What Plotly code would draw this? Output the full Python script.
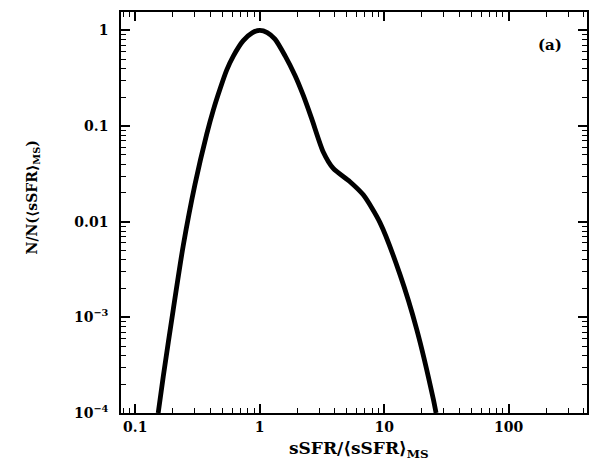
import plotly.graph_objects as go

# Curve (x = sSFR/<sSFR>_MS, y = N/N(<sSFR>_MS))
ssfr_ratio = [0.153, 0.168, 0.202, 0.243, 0.302, 0.375, 0.424, 0.480, 0.543,
              0.614, 0.738, 0.87, 1.0, 1.15, 1.327, 1.596, 1.922, 2.24, 2.62,
              3.24, 3.90, 5.31, 6.79, 9.25, 13.4, 18.2, 24.8, 26.1]
n_ratio = [1.0e-4, 2.4e-4, 1.2e-3, 5.6e-3, 0.0245, 0.082, 0.147, 0.244, 0.385,
           0.54, 0.783, 0.945, 1.0, 0.95, 0.811, 0.545, 0.338, 0.209, 0.119,
           0.0537, 0.0361, 0.0262, 0.0191, 0.0098, 0.0028, 7.6e-4, 1.4e-4, 1.0e-4]

x_tickvals = [0.1, 1, 10, 100]
x_ticktext = ["0.1", "1", "10", "100"]
x_minor = [0.08, 0.09] + [m * d for d in (0.1, 1, 10) for m in range(2, 10)] + [200, 300, 400]
y_tickvals = [1, 0.1, 0.01, 1e-3, 1e-4]
y_ticktext = ["1", "0.1", "0.01", "10<sup>\u22123</sup>", "10<sup>\u22124</sup>"]
y_minor = [m * d for d in (1e-4, 1e-3, 1e-2, 1e-1) for m in range(2, 10)]

X_RANGE = [-1.114, 2.629]
Y_RANGE = [-4, 0.193]
FONT = "DejaVu Serif"

fig = go.Figure()
# invisible trace carrying the overlay axes that draw the minor ticks
fig.add_trace(go.Scatter(x=ssfr_ratio, y=n_ratio, mode="lines", xaxis="x2", yaxis="y2",
                         line=dict(color="rgba(0,0,0,0)", width=0),
                         showlegend=False, hoverinfo="skip"))
fig.add_trace(go.Scatter(x=ssfr_ratio, y=n_ratio, mode="lines",
                         line=dict(color="black", width=4.8, shape="spline", smoothing=0.7),
                         showlegend=False, hoverinfo="skip"))

base = dict(type="log", showgrid=False, zeroline=False, showline=True, linecolor="black",
            linewidth=1.5, mirror="ticks", ticks="inside", tickcolor="black")

fig.update_layout(
    xaxis=dict(**base, range=X_RANGE, tickvals=x_tickvals, ticklen=9, tickwidth=1.5,
               ticktext=["<b>%s</b>" % t for t in x_ticktext],
               tickfont=dict(family=FONT, size=14, color="black")),
    yaxis=dict(**base, range=Y_RANGE, tickvals=y_tickvals, ticklen=9, tickwidth=1.5,
               ticktext=["<b>%s</b>" % t for t in y_ticktext], ticklabelstandoff=8,
               tickfont=dict(family=FONT, size=14, color="black")),
    xaxis2=dict(**base, range=X_RANGE, overlaying="x", side="bottom", tickvals=x_minor,
                ticklen=5, tickwidth=1.2, showticklabels=False),
    yaxis2=dict(**base, range=Y_RANGE, overlaying="y", side="left", tickvals=y_minor,
                ticklen=5, tickwidth=1.2, showticklabels=False),
)

# Axis titles as paper-positioned annotations
fig.add_annotation(x=(359 - 121) / 466, y=-(449 - 412.7) / 403, xref="paper", yref="paper",
                   text="<b>sSFR/\u27e8sSFR\u27e9<sub>MS</sub></b>", showarrow=False,
                   font=dict(family=FONT, size=17, color="black"),
                   xanchor="center", yanchor="middle")
fig.add_annotation(x=-(121 - 33) / 466, y=(412.7 - 196) / 403, xref="paper", yref="paper",
                   text="<b>N/N(\u27e8sSFR\u27e9<sub>MS</sub>)</b>", showarrow=False,
                   textangle=-90, font=dict(family=FONT, size=14, color="black"),
                   xanchor="center", yanchor="middle")

fig.add_annotation(x=(550 - 121) / 466, y=(412.7 - 42.5) / 403, xref="paper", yref="paper",
                   text="<b>(a)</b>", showarrow=False,
                   font=dict(family=FONT, size=15, color="black"),
                   xanchor="center", yanchor="middle")

fig.update_layout(width=605, height=471, margin=dict(l=121, r=18, t=10, b=58),
                  paper_bgcolor="white", plot_bgcolor="white",
                  font=dict(family=FONT, color="black"))

fig.write_html("out.html")
